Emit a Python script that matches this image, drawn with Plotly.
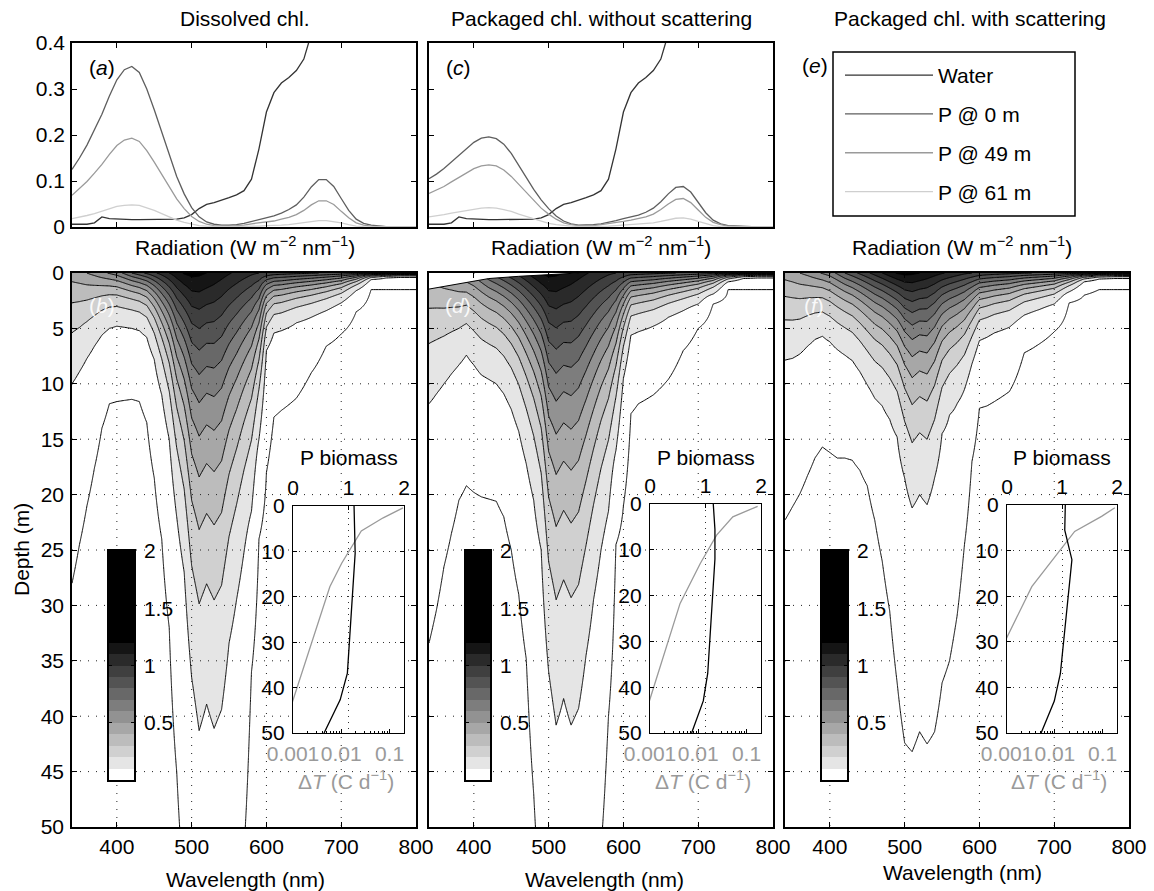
import numpy as np
import plotly.graph_objects as go

W, H = 1154, 891
FONT = "Liberation Sans, Arial, Helvetica, sans-serif"

# ---------------- absorption spectra (top row, m^-1) ----------------
wl_abs = list(range(340, 801, 10))
water_abs = [0.006, 0.006, 0.006, 0.009, 0.022, 0.018, 0.017, 0.016, 0.016, 0.016,
             0.016, 0.016, 0.016, 0.017, 0.017, 0.020, 0.027, 0.040, 0.049, 0.053,
             0.058, 0.064, 0.070, 0.079, 0.104, 0.170, 0.250, 0.292, 0.313, 0.325,
             0.340, 0.365, 0.42, 0.45, 0.47, 0.52, 0.65, 0.83, 1.17, 1.8,
             2.4, 2.6, 2.6, 2.5, 2.3, 2.1, 2.0]
p0_dissolved = [0.125, 0.150, 0.178, 0.210, 0.245, 0.285, 0.320, 0.342, 0.349, 0.336,
                0.300, 0.255, 0.205, 0.155, 0.110, 0.072, 0.042, 0.022, 0.011, 0.006,
                0.004, 0.004, 0.005, 0.008, 0.012, 0.016, 0.020, 0.024, 0.030, 0.038,
                0.048, 0.065, 0.087, 0.103, 0.103, 0.088, 0.062, 0.036, 0.017, 0.008,
                0.004, 0.002, 0.001, 0.0, 0.0, 0.0, 0.0]
p49_dissolved = [0.069, 0.083, 0.099, 0.117, 0.136, 0.158, 0.177, 0.189, 0.193, 0.186,
                 0.166, 0.141, 0.114, 0.086, 0.061, 0.040, 0.023, 0.012, 0.006, 0.003,
                 0.002, 0.002, 0.003, 0.004, 0.007, 0.009, 0.011, 0.013, 0.017, 0.021,
                 0.027, 0.036, 0.048, 0.057, 0.057, 0.049, 0.034, 0.020, 0.009, 0.004,
                 0.002, 0.001, 0.0, 0.0, 0.0, 0.0, 0.0]
p61_dissolved = [0.018, 0.021, 0.025, 0.029, 0.034, 0.040, 0.045, 0.047, 0.048, 0.047,
                 0.042, 0.036, 0.029, 0.022, 0.015, 0.010, 0.006, 0.003, 0.002, 0.001,
                 0.001, 0.001, 0.001, 0.001, 0.002, 0.002, 0.003, 0.003, 0.004, 0.005,
                 0.007, 0.009, 0.012, 0.014, 0.014, 0.012, 0.009, 0.005, 0.002, 0.001,
                 0.0, 0.0, 0.0, 0.0, 0.0, 0.0, 0.0]
p0_packaged = [0.105, 0.115, 0.127, 0.141, 0.156, 0.171, 0.184, 0.193, 0.196, 0.192,
               0.180, 0.160, 0.135, 0.108, 0.082, 0.059, 0.040, 0.024, 0.013, 0.007,
               0.004, 0.004, 0.005, 0.007, 0.010, 0.014, 0.018, 0.022, 0.026, 0.032,
               0.041, 0.055, 0.072, 0.086, 0.088, 0.076, 0.054, 0.031, 0.015, 0.007,
               0.003, 0.002, 0.001, 0.0, 0.0, 0.0, 0.0]
p49_packaged = [0.073, 0.080, 0.088, 0.098, 0.108, 0.118, 0.127, 0.133, 0.135, 0.133,
                0.124, 0.110, 0.093, 0.075, 0.057, 0.041, 0.028, 0.017, 0.009, 0.005,
                0.003, 0.003, 0.003, 0.005, 0.007, 0.010, 0.012, 0.015, 0.018, 0.022,
                0.028, 0.038, 0.050, 0.060, 0.062, 0.053, 0.037, 0.021, 0.010, 0.005,
                0.002, 0.001, 0.0, 0.0, 0.0, 0.0, 0.0]
p61_packaged = [0.022, 0.024, 0.027, 0.030, 0.033, 0.036, 0.039, 0.041, 0.042, 0.041,
                0.038, 0.034, 0.028, 0.023, 0.017, 0.012, 0.008, 0.005, 0.003, 0.002,
                0.001, 0.001, 0.001, 0.001, 0.002, 0.003, 0.004, 0.005, 0.006, 0.007,
                0.009, 0.012, 0.016, 0.019, 0.020, 0.017, 0.012, 0.007, 0.003, 0.001,
                0.0, 0.0, 0.0, 0.0, 0.0, 0.0, 0.0]

# ---------------- radiation with depth (bottom row, W m^-2 nm^-1) ----------------
wl_rad = [340, 350, 360, 370, 380, 390, 400, 410, 420, 430, 440, 450, 460, 470, 480,
          490, 500, 510, 520, 530, 540, 550, 560, 570, 580, 590, 600, 610, 620,
          640, 660, 680, 700, 720, 740, 760, 780, 800]
surface_rad = [0.45, 0.47, 0.50, 0.53, 0.57, 0.61, 0.65, 0.72, 0.80, 0.86, 0.92, 0.98,
               1.04, 1.10, 1.16, 1.21, 1.23, 1.22, 1.20, 1.17, 1.14, 1.11, 1.08, 1.05,
               1.02, 1.00, 0.98, 0.96, 0.95, 0.93, 0.91, 0.89, 0.87, 0.85, 0.83, 0.81,
               0.79, 0.77]
# depth (m) at which radiation falls to 0.1 and to 0.01
depth_01_dissolved = [10.0, 8.9, 7.7, 6.6, 5.6, 5.0, 4.8, 4.9, 5.0, 5.2, 5.8, 7.8, 11.0,
                      15.0, 22.0, 27.0, 36.5, 41.3, 38.9, 41.1, 39.4, 33.4, 29.5, 25.2,
                      21.5, 15.0, 7.0, 5.4, 5.2, 4.5, 4.0, 3.4, 2.7, 1.6, 0.6, 0.45, 0.4, 0.4]
depth_001_dissolved = [28.0, 24.5, 21.0, 17.6, 14.0, 11.8, 11.6, 11.5, 11.4, 11.6, 13.5,
                       18.5, 24.0, 32.0, 45.0, 56.0, 68.0, 80.0, 78.0, 80.0, 76.0, 70.0,
                       62.0, 52.0, 36.0, 24.0, 18.0, 13.0, 12.4, 11.3, 9.0, 6.6, 5.5, 3.5,
                       1.5, 1.5, 1.5, 1.5]
depth_01_packaged = [11.8, 10.9, 10.0, 9.1, 8.3, 7.4, 8.3, 9.2, 9.6, 10.0, 10.9, 12.3,
                     14.3, 17.2, 20.5, 25.0, 36.0, 40.8, 38.4, 40.8, 39.3, 34.5, 29.5,
                     25.0, 21.5, 16.0, 9.5, 5.6, 5.3, 4.8, 4.0, 3.4, 2.8, 1.9, 0.8, 0.5,
                     0.45, 0.45]
depth_001_packaged = [33.4, 30.4, 26.5, 23.5, 20.5, 19.2, 19.8, 20.2, 20.4, 20.6, 22.0,
                      25.0, 29.0, 34.8, 47.0, 58.0, 70.0, 82.0, 80.0, 82.0, 78.0, 72.0,
                      64.0, 52.0, 40.0, 24.5, 21.0, 12.7, 11.8, 11.0, 9.6, 7.0, 5.0, 2.8,
                      1.5, 1.5, 1.5, 1.5]
depth_01_scatter = [7.85, 7.7, 7.3, 6.6, 6.0, 5.7, 6.2, 6.9, 7.4, 7.9, 8.9, 10.1, 11.3,
                    12.0, 13.2, 14.8, 18.5, 21.2, 20.0, 20.9, 18.5, 14.5, 12.8, 11.8,
                    10.5, 8.2, 6.1, 5.8, 5.4, 4.9, 3.8, 3.3, 2.8, 1.7, 0.8, 0.55, 0.5, 0.5]
depth_001_scatter = [22.3, 21.1, 19.9, 18.3, 16.7, 15.7, 16.2, 16.7, 16.7, 16.9, 17.8,
                     19.2, 22.3, 26.0, 30.5, 37.0, 42.4, 43.2, 41.4, 42.5, 41.4, 37.0,
                     35.0, 31.0, 24.5, 17.0, 12.2, 12.0, 11.6, 10.7, 7.2, 6.4, 5.3, 2.7,
                     2.0, 1.5, 1.5, 1.5]
# unfilled surface strip of the packaged run
gap_wl = [340, 380, 420, 460, 500, 540]
gap_depth = [1.45, 0.95, 0.5, 0.3, 0.12, 0.0]

# ---------------- inset profiles ----------------
bio_depth_dissolved = [0, 10.4, 36.8, 42.7, 50]
bio_dissolved = [1.10, 1.12, 0.98, 0.85, 0.56]
dT_depth_dissolved = [0.4, 2.6, 5.5, 12.6, 17.8, 42.7, 50]
dT_dissolved = [0.19, 0.074, 0.026, 0.0102, 0.0058, 0.001, 0.0006]

bio_depth_packaged = [0, 5.5, 12, 37, 43, 50]
bio_packaged = [1.14, 1.17, 1.17, 1.04, 0.96, 0.75]
dT_depth_packaged = [0.5, 2.8, 6.8, 13, 21.7, 42.8, 50]
dT_packaged = [0.17, 0.052, 0.024, 0.011, 0.0042, 0.001, 0.0006]

bio_depth_scatter = [0, 5.5, 12, 37, 43, 50]
bio_scatter = [1.06, 1.05, 1.18, 0.97, 0.86, 0.62]
dT_depth_scatter = [0.6, 2.5, 5.8, 11.3, 17.9, 29, 35]
dT_scatter = [0.18, 0.095, 0.026, 0.01, 0.0033, 0.001, 0.0005]

# stepped grey map: white below 0.1, 0.1-wide grey bands, black above 1.2
band_grey = [255, 229, 208, 188, 167, 146, 125, 104, 83, 63, 42, 21] + [0] * 9
grey_scale = [[k / 20, f"rgb({g},{g},{g})"] for k, g in enumerate(band_grey)]

depth_grid = np.concatenate([np.linspace(0, 5, 101), np.linspace(5.25, 50, 180)])


def radiation_field(e0, z1, z2):
    """log-radiation linear in depth between the surface, 0.1 and 0.01 depths"""
    cols = []
    for s, a, b in zip(e0, z1, z2):
        k = (np.log(0.1) - np.log(0.01)) / (b - a)
        zz = [0.0, a, b, b + 200.0]
        ll = [np.log(s), np.log(0.1), np.log(0.01), np.log(0.01) - k * 200.0]
        cols.append(np.exp(np.interp(depth_grid, zz, ll)))
    return np.array(cols).T


def px_x(a, b):
    return [a / W, b / W]


def px_y(t, b):
    return [1 - b / H, 1 - t / H]


def ax(domain, rng, **kw):
    d = dict(domain=domain, range=rng, showline=True, linecolor="black", linewidth=1.5,
             mirror="ticks", ticks="inside", ticklen=5, tickwidth=1, tickcolor="black",
             showgrid=False, zeroline=False, fixedrange=True, automargin=False,
             tickfont=dict(size=21, color="black", family=FONT))
    d.update(kw)
    return d


fig = go.Figure()
layout = {}

panels = [
    ("", (72, 416), depth_01_dissolved, depth_001_dissolved),
    ("2", (429, 773), depth_01_packaged, depth_001_packaged),
    ("3", (785, 1129), depth_01_scatter, depth_001_scatter),
]

grid_x, grid_y = [], []
for v in [400, 500, 600, 700]:
    grid_x += [v, v, None]
    grid_y += [0, 50, None]
for dd in range(5, 50, 5):
    grid_x += [340, 800, None]
    grid_y += [dd, dd, None]

for i, (sfx, (xl, xr), z1, z2) in enumerate(panels):
    xa, ya = "x" + sfx, "y" + sfx
    field = radiation_field(surface_rad, z1, z2)
    fig.add_trace(go.Contour(
        x=wl_rad, y=depth_grid, z=field, colorscale=grey_scale, showscale=False,
        contours=dict(start=0.1, end=2.0, size=0.1, coloring="fill", showlines=True),
        line=dict(color="black", width=1, smoothing=0), hoverinfo="skip",
        xaxis=xa, yaxis=ya, showlegend=False))
    fig.add_trace(go.Contour(
        x=wl_rad, y=depth_grid, z=field, showscale=False,
        contours=dict(start=0.01, end=0.011, size=0.05, coloring="none"),
        line=dict(color="black", width=1, smoothing=0), hoverinfo="skip",
        xaxis=xa, yaxis=ya, showlegend=False))
    if i == 1:
        fig.add_trace(go.Scatter(
            x=gap_wl, y=gap_depth, mode="lines", fill="tozeroy", fillcolor="white",
            line=dict(color="black", width=1), hoverinfo="skip",
            xaxis=xa, yaxis=ya, showlegend=False))
    fig.add_trace(go.Scatter(
        x=grid_x, y=grid_y, mode="lines", line=dict(color="#222", width=1, dash="1px,7px"),
        hoverinfo="skip", xaxis=xa, yaxis=ya, showlegend=False))
    layout["xaxis" + sfx] = ax(px_x(xl, xr), [340, 800], tickvals=[400, 500, 600, 700, 800],
                               anchor=ya)
    layout["yaxis" + sfx] = ax(px_y(273, 827), [50, 0], tickvals=list(range(0, 51, 5)),
                               anchor=xa, showticklabels=(i == 0), ticklabelstandoff=2)

# top row spectra
spec_colors = ["#333333", "#5e5e5e", "#9a9a9a", "#cfcfcf"]
spec_names = ["Water", "P @ 0 m", "P @ 49 m", "P @ 61 m"]
for j, (sfx, (xl, xr), series) in enumerate([
        ("4", (72, 416), [water_abs, p0_dissolved, p49_dissolved, p61_dissolved]),
        ("5", (429, 773), [water_abs, p0_packaged, p49_packaged, p61_packaged])]):
    for name, col, vals in zip(spec_names, spec_colors, series):
        fig.add_trace(go.Scatter(
            x=wl_abs, y=vals, mode="lines", name=name, legendgroup=name,
            line=dict(color=col, width=1.3), showlegend=(j == 0), hoverinfo="skip",
            xaxis="x" + sfx, yaxis="y" + sfx))
    layout["xaxis" + sfx] = ax(px_x(xl, xr), [340, 800], tickvals=[400, 500, 600, 700, 800],
                               showticklabels=False, anchor="y" + sfx)
    layout["yaxis" + sfx] = ax(px_y(43, 227), [0, 0.4], tickvals=[0, 0.1, 0.2, 0.3, 0.4],
                               showticklabels=(j == 0), anchor="x" + sfx, ticklabelstandoff=1)

# colour bars
cbar_levels = [0.05 + 0.1 * k for k in range(20)]
for sfx, (xl, xr) in [("6", (109, 134)), ("7", (466, 490)), ("8", (822, 847))]:
    fig.add_trace(go.Heatmap(
        x=[0], y=cbar_levels, z=[[v] for v in cbar_levels], colorscale=grey_scale,
        zmin=0.05, zmax=2.05, showscale=False, hoverinfo="skip",
        xaxis="x" + sfx, yaxis="y" + sfx))
    layout["xaxis" + sfx] = dict(domain=px_x(xl, xr), range=[-0.5, 0.5], showline=True,
                                 mirror=True, linecolor="black", linewidth=1.5,
                                 showticklabels=False, ticks="", showgrid=False,
                                 zeroline=False, anchor="y" + sfx, fixedrange=True)
    layout["yaxis" + sfx] = ax(px_y(551, 780), [0, 2], tickvals=[0.5, 1, 1.5, 2],
                               side="right", anchor="x" + sfx, ticklen=3, ticklabelstandoff=4)

# insets: depth profiles of P biomass (top axis) and warming (bottom log axis)
minor_vals = [k * 0.001 for k in range(2, 10)] + [k * 0.01 for k in range(2, 10)] + [0.2]
insets = [
    ("9", "10", "9", (293, 404), 506, bio_depth_dissolved, bio_dissolved,
     dT_depth_dissolved, dT_dissolved),
    ("11", "12", "10", (650, 761), 504, bio_depth_packaged, bio_packaged,
     dT_depth_packaged, dT_packaged),
    ("13", "14", "11", (1007, 1117), 505, bio_depth_scatter, bio_scatter,
     dT_depth_scatter, dT_scatter),
]
for xb, xt, yi, (xl, xr), top, bd, bv, td, tv in insets:
    fig.add_trace(go.Scatter(x=tv, y=td, mode="lines", line=dict(color="#9a9a9a", width=1.3),
                             hoverinfo="skip", showlegend=False, xaxis="x" + xb, yaxis="y" + yi))
    fig.add_trace(go.Scatter(x=bv, y=bd, mode="lines", line=dict(color="black", width=1.3),
                             hoverinfo="skip", showlegend=False, xaxis="x" + xt, yaxis="y" + yi))
    layout["xaxis" + xb] = dict(
        domain=px_x(xl, xr), type="log", range=[-3, -0.7], tickvals=[0.001, 0.01, 0.1],
        ticktext=["0.001", "0.01", "0.1"], tickfont=dict(size=21, color="#9a9a9a", family=FONT),
        tickangle=0, showline=True, linecolor="black", linewidth=1.2, ticks="inside",
        ticklen=4, tickcolor="black", mirror=False, showgrid=False, zeroline=False,
        anchor="y" + yi, fixedrange=True, ticklabelstandoff=2, automargin=False,
        minor=dict(ticks="inside", ticklen=2, tickcolor="black", tickvals=minor_vals))
    layout["xaxis" + xt] = dict(
        domain=px_x(xl, xr), range=[0, 2], overlaying="x" + xb, side="top", anchor="y" + yi,
        tickvals=[0, 1, 2], ticks="inside", ticklen=4, tickcolor="black", showline=True,
        linecolor="black", linewidth=1.2, showgrid=True, gridcolor="#333", gridwidth=1,
        griddash="1px,5px", zeroline=False, fixedrange=True, ticklabelstandoff=2,
        automargin=False, tickangle=0, tickfont=dict(size=21, color="black", family=FONT))
    layout["yaxis" + yi] = dict(
        domain=px_y(top, 733), range=[50, 0], tickvals=[0, 10, 20, 30, 40, 50],
        anchor="x" + xb, ticks="inside", ticklen=4, tickcolor="black", mirror="ticks",
        showline=True, linecolor="black", linewidth=1.2, showgrid=True, gridcolor="#333",
        gridwidth=1, griddash="1px,5px", zeroline=False, fixedrange=True, automargin=False,
        ticklabelstandoff=3, tickfont=dict(size=21, color="black", family=FONT))


def note(text, x, y, color="black", angle=0, xanchor="center", size=21):
    return dict(text=text, x=x / W, y=1 - y / H, xref="paper", yref="paper",
                showarrow=False, textangle=angle, xanchor=xanchor, yanchor="middle",
                font=dict(size=size, color=color, family=FONT))


rad = "Radiation (W m<sup>\u22122</sup> nm<sup>\u22121</sup>)"
dT_title = "\u0394<i>T</i> (C d<sup>\u22121</sup>)"
annotations = [
    note("Dissolved chl.", 245, 18),
    note("Packaged chl. without scattering", 601, 18),
    note("Packaged chl. with scattering", 970, 18),
    note(rad, 245, 246), note(rad, 601, 246), note(rad, 962, 246),
    note("(<i>a</i>)", 102, 68), note("(<i>c</i>)", 458, 68), note("(<i>e</i>)", 815, 65),
    note("(<i>b</i>)", 102, 305, color="rgba(255,255,255,0.9)"),
    note("(<i>d</i>)", 458, 305, color="rgba(255,255,255,0.9)"),
    note("(<i>f</i>)", 814, 305, color="rgba(255,255,255,0.9)"),
    note("P biomass", 349, 457), note("P biomass", 706, 457), note("P biomass", 1062, 457),
    note(dT_title, 346, 780, color="#9a9a9a"), note(dT_title, 703, 780, color="#9a9a9a"),
    note(dT_title, 1059, 780, color="#9a9a9a"),
    note("Depth (m)", 21, 550, angle=-90),
    note("Wavelength (nm)", 245, 879), note("Wavelength (nm)", 604, 879),
    note("Wavelength (nm)", 962, 872),
]

# frame around the legend of panel (e)
legend_frame = dict(type="rect", xref="paper", yref="paper", x0=833 / W, x1=1075 / W,
                    y0=1 - 216 / H, y1=1 - 52 / H, line=dict(color="black", width=1.5),
                    fillcolor="rgba(0,0,0,0)", layer="above")

fig.update_layout(
    width=W, height=H, margin=dict(l=0, r=0, t=0, b=0, pad=0, autoexpand=False),
    paper_bgcolor="white", plot_bgcolor="white",
    font=dict(family=FONT, size=21, color="black"),
    hovermode=False, showlegend=True,
    legend=dict(x=840 / W, y=1 - 55 / H, xanchor="left", yanchor="top",
                bgcolor="rgba(0,0,0,0)", borderwidth=0, itemwidth=88, tracegroupgap=8.5,
                font=dict(size=21, color="black", family=FONT)),
    shapes=[legend_frame],
    annotations=annotations,
    **layout,
)

fig.write_html("out.html")
